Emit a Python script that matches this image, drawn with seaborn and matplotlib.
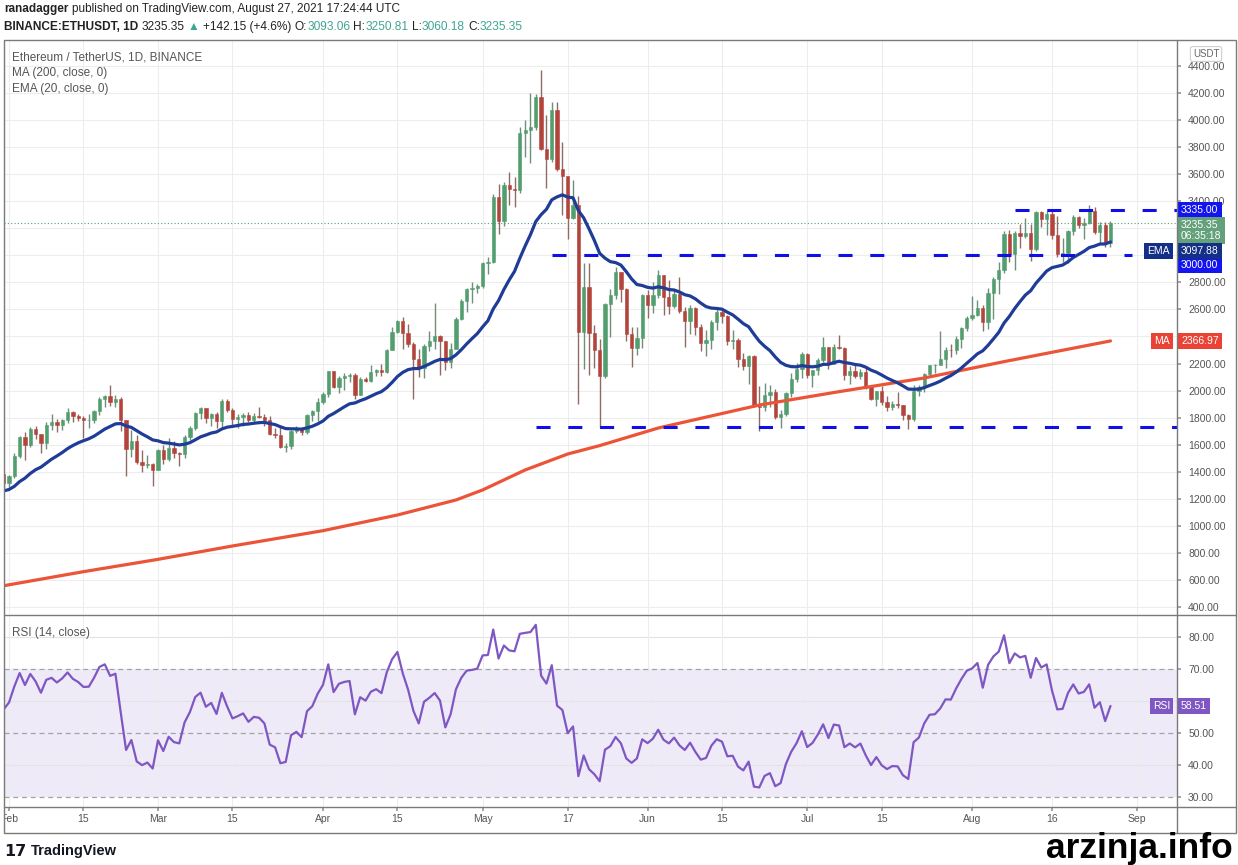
import numpy as np
import pandas as pd
import matplotlib
matplotlib.use("Agg")
import matplotlib.pyplot as plt
import matplotlib.dates as mdates
from matplotlib.transforms import Bbox
from matplotlib.lines import Line2D
from matplotlib.patches import Rectangle
import seaborn as sns

sns.set_theme(style="white")
plt.rcParams['font.family'] = ['Liberation Sans', 'DejaVu Sans']

# ---- data (ETH/USDT daily, 2021-01-31 .. 2021-08-27) ----
first_date = "2021-01-31"
first_open = 1380.0

closes = [1314,
          1369, 1514, 1660, 1594, 1718, 1677, 1614, 1746, 1768, 1744, 1784, 1843, 1814, 1800,
          1779, 1781, 1848, 1937, 1960, 1919, 1935, 1781, 1570, 1626, 1475, 1446, 1459, 1416,
          1564, 1492, 1575, 1541, 1533, 1655, 1723, 1834, 1868, 1799, 1826, 1772, 1924, 1855,
          1791, 1806, 1823, 1782, 1810, 1806, 1782, 1682, 1669, 1583, 1588, 1700, 1716, 1692,
          1818, 1846, 1919,
          1977, 2142, 2027, 2093, 2108, 2115, 1970, 2088, 2072, 2136, 2155, 2139, 2301, 2431,
          2515, 2424, 2348, 2237, 2164, 2330, 2364, 2404, 2365, 2211, 2308, 2532, 2660, 2749,
          2758, 2773,
          2944, 2950, 3431, 3253, 3523, 3490, 3484, 3902, 3930, 3952, 4168, 3786, 3715, 4075,
          3641, 3587, 3276, 3375, 2432, 2765, 2429, 2297, 2106, 2640, 2706, 2880, 2751, 2421,
          2318, 2388, 2706,
          2634, 2706, 2855, 2689, 2627, 2712, 2590, 2517, 2610, 2472, 2353, 2372, 2508, 2581,
          2551, 2367, 2372, 2231, 2179, 2253, 1889, 1875, 1970, 1992, 1805, 1828, 1979, 2085,
          2162, 2274,
          2113, 2150, 2226, 2322, 2197, 2324, 2316, 2116, 2147, 2111, 2140, 2035, 1940, 1994,
          1917, 1880, 1898, 1895, 1820, 1787, 1995, 2026, 2123, 2187, 2191, 2232, 2299, 2298,
          2382, 2461, 2535,
          2557, 2608, 2507, 2725, 2827, 2890, 3157, 3012, 3163, 3141, 3164, 3046, 3322, 3265,
          3309, 3148, 3011, 3017, 3182, 3285, 3225, 3242, 3324, 3173, 3226, 3093.06, 3235.35]

highs = [1383,
         1377, 1541, 1665, 1693, 1733, 1740, 1680, 1770, 1825, 1790, 1792, 1871, 1850, 1826,
         1812, 1827, 1860, 1950, 1970, 2042, 1967, 1950, 1782, 1710, 1674, 1560, 1525, 1468,
         1570, 1597, 1650, 1624, 1547, 1670, 1735, 1844, 1878, 1870, 1836, 1840, 1940, 1935,
         1870, 1830, 1834, 1840, 1832, 1875, 1828, 1810, 1725, 1740, 1610, 1705, 1735, 1734,
         1830, 1860, 1948,
         1990, 2145, 2145, 2107, 2131, 2130, 2130, 2100, 2100, 2190, 2160, 2200, 2310, 2470,
         2525, 2545, 2490, 2358, 2310, 2345, 2440, 2645, 2410, 2365, 2350, 2545, 2675, 2760,
         2800, 2790,
         2950, 2985, 3457, 3530, 3540, 3615, 3580, 3952, 4000, 4197, 4194, 4372, 4040, 4130,
         4130, 3840, 3590, 3560, 3440, 2940, 2940, 2484, 2380, 2645, 2748, 2910, 2880, 2760,
         2470, 2470, 2715,
         2745, 2800, 2890, 2858, 2817, 2745, 2840, 2620, 2630, 2620, 2493, 2448, 2520, 2615,
         2600, 2560, 2450, 2386, 2278, 2264, 2260, 2035, 2055, 2040, 2010, 1860, 1990, 2129,
         2205, 2285,
         2275, 2155, 2240, 2393, 2322, 2347, 2410, 2320, 2180, 2200, 2160, 2180, 2040, 2000,
         2036, 1960, 1920, 1990, 1896, 1830, 2040, 2040, 2130, 2190, 2200, 2440, 2320, 2346,
         2400, 2468, 2550,
         2700, 2666, 2630, 2760, 2840, 2950, 3180, 3185, 3180, 3230, 3275, 3235, 3330, 3330,
         3330, 3325, 3290, 3130, 3190, 3300, 3290, 3275, 3375, 3360, 3245, 3250, 3250.81]

lows = [1283,
        1285, 1355, 1499, 1490, 1580, 1640, 1540, 1570, 1710, 1690, 1710, 1760, 1771, 1777,
        1650, 1726, 1760, 1817, 1880, 1888, 1880, 1700, 1371, 1510, 1460, 1400, 1430, 1293,
        1410, 1460, 1480, 1505, 1440, 1500, 1634, 1705, 1790, 1760, 1735, 1724, 1726, 1840,
        1735, 1725, 1735, 1770, 1767, 1798, 1740, 1670, 1651, 1575, 1545, 1570, 1685, 1670,
        1680, 1776, 1776,
        1900, 1955, 2017, 1985, 2004, 2060, 1935, 1970, 2060, 2060, 2105, 2110, 2130, 2300,
        2422, 2310, 2320, 1935, 2100, 2090, 2290, 2310, 2115, 2150, 2165, 2305, 2520, 2580,
        2650, 2720,
        2760, 2860, 2945, 3160, 3215, 3375, 3360, 3460, 3730, 3680, 3930, 3780, 3500, 3690,
        3620, 3300, 3120, 3265, 1900, 2160, 2112, 2170, 1728.74, 2090, 2395, 2678, 2655, 2365,
        2177, 2262, 2317,
        2540, 2572, 2687, 2560, 2563, 2610, 2575, 2320, 2420, 2410, 2296, 2255, 2311, 2450,
        2500, 2335, 2310, 2176, 2150, 2050, 1880, 1700, 1850, 1880, 1787, 1720, 1810, 1950,
        2065, 2090,
        2092, 2025, 2117, 2212, 2160, 2193, 2305, 2080, 2050, 2090, 2088, 2010, 1930, 1883,
        1890, 1850, 1855, 1874, 1785, 1718, 1774, 1957, 1990, 2100, 2130, 2190, 2165, 2250,
        2267, 2315, 2440,
        2520, 2551, 2444, 2452, 2530, 2717, 2870, 2950, 2890, 3055, 3130, 2955, 3030, 3210,
        3150, 3120, 2985, 2950, 2945, 3150, 3200, 3120, 3235, 3160, 3080, 3060, 3060.18]

# 200-day MA
ma_dates = ["2021-01-31", "2021-02-15", "2021-03-01", "2021-03-15", "2021-04-01",
            "2021-04-15", "2021-04-26", "2021-05-01", "2021-05-09", "2021-05-17",
            "2021-05-23", "2021-06-03", "2021-06-22", "2021-07-07", "2021-07-23",
            "2021-08-07", "2021-08-27"]
ma_vals = [557, 661, 752, 851, 964, 1080, 1191, 1265, 1413, 1531, 1593, 1723, 1893,
           1992, 2093, 2214, 2366.97]

# last values shown in the scale tags
ema_last = 3097.88
rsi_last = 58.51

# key levels (price, from, to)
level_prices = [3335.0, 3000.0, 1728.74]
level_from = ["2021-08-09", "2021-05-14", "2021-05-11"]
level_to = ["2021-09-20", "2021-08-31", "2021-09-20"]

tick_dates = ["2021-02-01", "2021-02-15", "2021-03-01", "2021-03-15", "2021-04-01",
              "2021-04-15", "2021-05-01", "2021-05-17", "2021-06-01", "2021-06-15",
              "2021-07-01", "2021-07-15", "2021-08-01", "2021-08-16", "2021-09-01"]
tick_labels = ["Feb", "15", "Mar", "15", "Apr", "15", "May", "17", "Jun", "15",
               "Jul", "15", "Aug", "16", "Sep"]
price_ticks = list(range(400, 4401, 200))
price_hidden = [2400, 3000, 3200]        # covered by the scale tags
rsi_ticks = [30, 40, 50, 60, 70, 80]
rsi_hidden = [60]

# ---- derived series ----
dates = pd.date_range(first_date, periods=len(closes), freq="D")
c = np.array(closes, dtype=float)
o = np.concatenate([[first_open], c[:-1]])
h = np.array(highs, dtype=float)
l = np.array(lows, dtype=float)

ema = []
prev = 1252.0
for v in c:
    prev = prev + (v - prev) * 2 / 21
    ema.append(prev)

rsi = []
ag, al, pc = 50.0, 32.0, first_open
for v in c:
    d = v - pc
    ag = (ag * 13 + max(d, 0)) / 14
    al = (al * 13 + max(-d, 0)) / 14
    rsi.append(100 * ag / (ag + al))
    pc = v

# ---- figure ----
W, H = 1238, 865
fig = plt.figure(figsize=(W / 100, H / 100), dpi=100)
fig.patch.set_facecolor("white")


def fx(x):
    return x / W


def fy(y):
    return 1 - y / H


ax = fig.add_axes([fx(4), fy(614), (1177 - 4) / W, (614 - 40) / H])
rax = fig.add_axes([fx(4), fy(807), (1177 - 4) / W, (807 - 616) / H], sharex=ax)

GREEN = "#529e6e"
RED = "#b3443c"
x = mdates.date2num(dates)
up = c >= o

ax.vlines(x[up], l[up], h[up], color="#6f8f7a", lw=1, zorder=2)
ax.vlines(x[~up], l[~up], h[~up], color="#8f6b68", lw=1, zorder=2)
ax.bar(x[up], c[up] - o[up], bottom=o[up], width=0.62, color=GREEN,
       edgecolor=GREEN, linewidth=0.4, zorder=3)
ax.bar(x[~up], o[~up] - c[~up], bottom=c[~up], width=0.62, color=RED,
       edgecolor=RED, linewidth=0.4, zorder=3)

sns.lineplot(x=pd.to_datetime(ma_dates), y=ma_vals, ax=ax, color="#ec5437",
             linewidth=2.3, zorder=4)
sns.lineplot(x=dates, y=ema, ax=ax, color="#1f3c96", linewidth=2.3, zorder=5)

for p, a, b in zip(level_prices, level_from, level_to):
    ax.hlines(p, mdates.date2num(pd.Timestamp(a)), mdates.date2num(pd.Timestamp(b)),
              color="#1010e6", lw=2.2, linestyles=[(0, (4.6, 5.8))], zorder=6)

ax.axhline(closes[-1], color="#5c9c7c", lw=0.8, ls=(0, (1, 2)), zorder=1)

x0 = mdates.date2num(pd.Timestamp("2021-02-01"))
ax.set_xlim(x0 - 0.94, x0 + 219.5)
ax.set_ylim(348, 4592)
ax.set_yticks(price_ticks)
ax.set_yticklabels(["" if v in price_hidden else f"{v:.2f}" for v in price_ticks])
tick_nums = mdates.date2num(pd.to_datetime(tick_dates))
ax.set_xticks(tick_nums)
ax.grid(True, color="#ededed", lw=0.8)
ax.set_axisbelow(True)
ax.yaxis.tick_right()
ax.tick_params(axis="y", length=3, color="#999999", labelsize=7.5,
               labelcolor="#555555", pad=5)
ax.tick_params(axis="x", bottom=False, labelbottom=False)
ax.set_xlabel("")
ax.set_ylabel("")
for s in ax.spines.values():
    s.set_visible(False)

# RSI pane
rax.axhspan(30, 70, color="#efeaf8", zorder=0, lw=0)
for v in (40, 60, 80):
    rax.axhline(v, color="#e3e3e3", lw=0.8, zorder=0.5)
for v in (30, 50, 70):
    rax.axhline(v, color="#a3a3a3", lw=0.9, ls=(0, (4, 3)), zorder=1)
sns.lineplot(x=dates, y=rsi, ax=rax, color="#7e57c2", linewidth=1.6, zorder=3)
rax.set_ylim(26.9, 86.56)
rax.set_yticks(rsi_ticks)
rax.set_yticklabels(["" if v in rsi_hidden else f"{v:.2f}" for v in rsi_ticks])
rax.set_xticks(tick_nums)
rax.set_xticklabels(tick_labels)
rax.set_xlim(x0 - 0.94, x0 + 219.5)
rax.grid(True, axis="x", color="#ededed", lw=0.8)
rax.set_axisbelow(True)
rax.yaxis.tick_right()
rax.tick_params(axis="y", length=3, color="#999999", labelsize=7.5,
                labelcolor="#555555", pad=5)
rax.tick_params(axis="x", length=3, color="#999999", labelsize=7.5,
                labelcolor="#555555", pad=2, bottom=True)
rax.set_xlabel("")
rax.set_ylabel("")
for s in rax.spines.values():
    s.set_visible(False)
clip = Bbox.from_extents(5, 0, W, H)
for lbl in rax.get_xticklabels():
    lbl.set_clip_on(True)
    lbl.set_clip_box(clip)

# frames
frame = "#7a7a7a"
fig.patches.append(Rectangle((fx(4), fy(833)), (1236 - 4) / W, (833 - 40) / H,
                             fill=False, ec=frame, lw=1, transform=fig.transFigure))
for yy in (615, 807):
    fig.lines.append(Line2D([fx(4), fx(1236)], [fy(yy), fy(yy)], color=frame, lw=1,
                            transform=fig.transFigure))
fig.lines.append(Line2D([fx(1177), fx(1177)], [fy(40), fy(833)], color=frame, lw=1,
                        transform=fig.transFigure))


# price tags on the right scale
def tag(axis, y, text, fc, dy=0, size=7.5):
    axis.annotate(text, xy=(1, y), xycoords=("axes fraction", "data"),
                  xytext=(4, dy), textcoords="offset pixels", ha="left", va="center",
                  fontsize=size, color="white",
                  bbox=dict(boxstyle="square,pad=0.3", fc=fc, ec="none"),
                  annotation_clip=False, zorder=20)


def side(axis, y, text, fc, dy=0):
    axis.annotate(text, xy=(1, y), xycoords=("axes fraction", "data"),
                  xytext=(-7, dy), textcoords="offset pixels", ha="right", va="center",
                  fontsize=7.5, color="white",
                  bbox=dict(boxstyle="square,pad=0.3", fc=fc, ec="none"),
                  annotation_clip=False, zorder=20)


tag(ax, 3335.0, "3335.00", "#1414f0")
tag(ax, closes[-1], "3235.35\n06:35:18", "#64a07a", dy=-7)
tag(ax, 3000.0, "3000.00", "#1414f0", dy=-10)
tag(ax, ema_last, f"{ema_last:.2f}", "#132f86", dy=-9)
side(ax, ema_last, "EMA", "#132f86", dy=-9)
tag(ax, ma_vals[-1], f"{ma_vals[-1]:.2f}", "#ea4335")
side(ax, ma_vals[-1], "MA", "#ea4335")
tag(rax, rsi_last, f"{rsi_last:.2f}", "#7e57c2")
side(rax, rsi_last, "RSI", "#7e57c2")

fig.text(fx(1206), fy(54), "USDT", fontsize=7, color="#666666", ha="center", va="center",
         bbox=dict(boxstyle="round,pad=0.25", fc="white", ec="#cfcfcf", lw=0.8), zorder=20)

# texts
renderer = fig.canvas.get_renderer()


def write_run(x, y, parts, size):
    sp = size * 100 / 72 * 0.28
    for s, color, weight in parts:
        lead = len(s) - len(s.lstrip(" "))
        trail = len(s) - len(s.rstrip(" "))
        x += lead * sp
        t = fig.text(fx(x), fy(y), s.strip(), fontsize=size, color=color,
                     fontweight=weight, ha="left", va="center")
        x += t.get_window_extent(renderer).width + trail * sp


DARK = "#222222"
TEAL = "#3fa593"
write_run(4, 9, [("ranadagger", DARK, "bold"),
                 (" published on TradingView.com, August 27, 2021 17:24:44 UTC", DARK, "normal")], 8.5)
write_run(4, 27, [("BINANCE:ETHUSDT, 1D", DARK, "bold"), (" 3235.35 ", DARK, "normal"),
                  ("▲", TEAL, "normal"), (" +142.15 (+4.6%) ", DARK, "normal"),
                  ("O:", DARK, "normal"), ("3093.06", TEAL, "normal"),
                  (" H:", DARK, "normal"), ("3250.81", TEAL, "normal"),
                  (" L:", DARK, "normal"), ("3060.18", TEAL, "normal"),
                  (" C:", DARK, "normal"), ("3235.35", TEAL, "normal")], 8.6)

GREY = "#555555"
fig.text(fx(12), fy(57), "Ethereum / TetherUS, 1D, BINANCE", fontsize=8.5, color=GREY, va="center")
fig.text(fx(12), fy(73), "MA (200, close, 0)", fontsize=8.5, color=GREY, va="center")
fig.text(fx(12), fy(89), "EMA (20, close, 0)", fontsize=8.5, color=GREY, va="center")
fig.text(fx(12), fy(633), "RSI (14, close)", fontsize=8.5, color=GREY, va="center")

fig.text(fx(4), fy(851), "17", fontsize=11.5, color="#131722", fontweight="heavy",
         va="center", family="DejaVu Sans")
fig.text(fx(31), fy(851), "TradingView", fontsize=10.5, color="#131722",
         fontweight="bold", va="center")
fig.text(fx(1233), fy(858), "arzinja.info", fontsize=25.5, color="black", fontweight="bold",
         ha="right", va="baseline", family="Liberation Sans")

fig.savefig("out.png", dpi=100, facecolor="white")
